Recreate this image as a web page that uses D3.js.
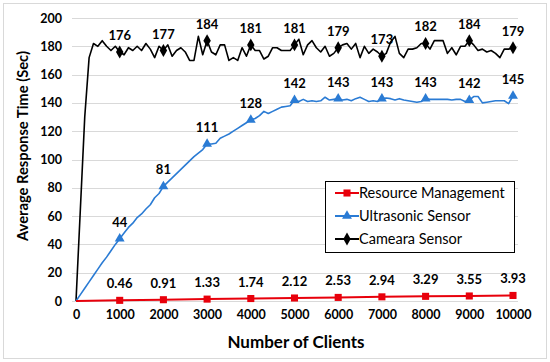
<!DOCTYPE html>
<html>
<head>
<meta charset="utf-8">
<script src="https://cdn.jsdelivr.net/npm/d3@7"></script>
<style>
  body { margin: 0; background: #fff; }
  svg { font-family: Lato, "Liberation Sans", sans-serif; }
</style>
</head>
<body>
<svg id="chart" width="550" height="362"></svg>
<script>
// clients sampled every 100 for the two sensor series
const clients = d3.range(0, 10001, 100);
const markerClients = d3.range(1000, 10001, 1000);

const cameraSensor = [
  0, 65, 130, 172, 182, 180, 184, 180, 177, 180,
  176, 174, 179, 177, 180, 177, 182, 178, 172, 180,
  177, 181, 173, 177, 179, 176, 170, 170, 187, 174,
  184, 176, 174, 181, 181, 170, 172, 170, 179, 173,
  181, 177, 177, 171, 173, 179, 179, 177, 177, 177,
  181, 185, 174, 181, 184, 179, 176, 180, 173, 175,
  179, 181, 182, 178, 182, 172, 180, 175, 178, 176,
  173, 175, 183, 187, 175, 172, 178, 178, 179, 182,
  182, 178, 184, 184, 184, 175, 179, 174, 180, 180,
  184, 181, 177, 178, 176, 177, 175, 172, 178, 178,
  179
];

const ultrasonicSensor = [
  0, 4.5, 9, 13.5, 18, 22.5, 27, 31, 35.5, 40,
  44, 48, 52, 55, 59, 61.5, 65, 68, 73, 76,
  81, 84, 87, 90, 93, 96, 99, 102, 104.5, 107,
  111, 111, 111.5, 115, 116.5, 118, 120, 122, 124, 126,
  128, 129, 131, 134, 132.5, 134, 135.5, 137, 137.5, 138,
  142, 141, 142.5, 141, 141.5, 141, 141.5, 144, 142, 142.5,
  143, 142, 142.5, 141.5, 143, 144, 142.5, 141, 141.5, 141,
  143, 143.5, 143, 142, 143, 142, 141.5, 141, 140.5, 141,
  143, 142.5, 142.5, 142.5, 142.5, 142.5, 142, 142.5, 142.5, 141,
  142, 144.5, 144.5, 140, 140.5, 141, 141.5, 141.5, 141.5, 139.5,
  145
];

const resourceClients = [0, 1000, 2000, 3000, 4000, 5000, 6000, 7000, 8000, 9000, 10000];
const resourceManagement = [0, 0.46, 0.91, 1.33, 1.74, 2.12, 2.53, 2.94, 3.29, 3.55, 3.93];

const cameraLabels = [176, 177, 184, 181, 181, 179, 173, 182, 184, 179];
const ultrasonicLabels = [44, 81, 111, 128, 142, 143, 143, 143, 142, 145];
const resourceLabels = ["0.46", "0.91", "1.33", "1.74", "2.12", "2.53", "2.94", "3.29", "3.55", "3.93"];

const xTicks = d3.range(0, 10001, 1000);
const yTicks = d3.range(0, 201, 20);

const svg = d3.select("#chart");

// outer frame
svg.append("rect")
  .attr("x", 3.5).attr("y", 3.5).attr("width", 543).attr("height", 355)
  .attr("fill", "#fff").attr("stroke", "#d9d9d9");

const x = d3.scaleLinear().domain([0, 10000]).range([76, 513]);
const y = d3.scaleLinear().domain([0, 200]).range([301, 18]);

// gridlines
svg.append("g")
  .selectAll("line")
  .data(yTicks)
  .join("line")
  .attr("x1", 72).attr("x2", 518)
  .attr("y1", d => Math.round(y(d)) + 0.5)
  .attr("y2", d => Math.round(y(d)) + 0.5)
  .attr("stroke", "#d9d9d9");

// y axis labels
const yAxis = svg.append("g")
  .attr("transform", "translate(62,0)")
  .call(d3.axisLeft(y).tickValues(yTicks).tickSize(0).tickPadding(0));
yAxis.select(".domain").remove();
yAxis.selectAll("text")
  .attr("font-family", "Lato, sans-serif")
  .attr("font-size", 12.5).attr("font-weight", "bold").attr("fill", "#000");

// x axis labels
const xAxis = svg.append("g")
  .attr("transform", "translate(0,310)")
  .call(d3.axisBottom(x).tickValues(xTicks).tickFormat(d3.format("d")).tickSize(0).tickPadding(0));
xAxis.select(".domain").remove();
xAxis.selectAll("text")
  .attr("font-family", "Lato, sans-serif")
  .attr("font-size", 12.5).attr("font-weight", "bold").attr("fill", "#000");

// axis titles
svg.append("text")
  .attr("x", 296).attr("y", 348)
  .attr("text-anchor", "middle")
  .attr("font-size", 17).attr("font-weight", "bold")
  .text("Number of Clients");

svg.append("text")
  .attr("transform", "translate(28,146) rotate(-90)")
  .attr("text-anchor", "middle")
  .attr("font-size", 15.5).attr("font-weight", "bold")
  .attr("textLength", 190).attr("lengthAdjust", "spacingAndGlyphs")
  .text("Average Response Time (Sec)");

const line = d3.line().x(d => x(d[0])).y(d => y(d[1]));

const series = [
  {
    name: "Resource Management", color: "#e8000b", symbol: d3.symbolSquare, size: 50,
    points: resourceClients.map((c, i) => [c, resourceManagement[i]]),
    labels: resourceLabels
  },
  {
    name: "Ultrasonic Sensor", color: "#2a7bd4", symbol: d3.symbolTriangle, size: 42,
    points: clients.map((c, i) => [c, ultrasonicSensor[i]]),
    labels: ultrasonicLabels
  },
  {
    name: "Cameara Sensor", color: "#000", symbol: d3.symbolDiamond, size: 48,
    points: clients.map((c, i) => [c, cameraSensor[i]]),
    labels: cameraLabels
  }
];

// draw in order: camera, ultrasonic, resource on top
[series[2], series[1], series[0]].forEach(s => {
  svg.append("path")
    .datum(s.points)
    .attr("fill", "none")
    .attr("stroke", s.color)
    .attr("stroke-width", s.name === "Resource Management" ? 2 : 1.6)
    .attr("stroke-linejoin", "round")
    .attr("d", line);

  const marks = s.points.filter(p => markerClients.includes(p[0]));
  svg.append("g")
    .selectAll("path")
    .data(marks)
    .join("path")
    .attr("transform", d => `translate(${x(d[0])},${y(d[1])})`)
    .attr("d", d3.symbol().type(s.symbol).size(s.size))
    .attr("fill", s.color);

  svg.append("g")
    .selectAll("text")
    .data(marks)
    .join("text")
    .attr("x", d => x(d[0]))
    .attr("y", d => y(d[1]) - 12)
    .attr("text-anchor", "middle")
    .attr("font-size", 13).attr("font-weight", "bold")
    .text((d, i) => s.labels[i]);
});

// legend
const legend = svg.append("g").attr("transform", "translate(325,181)");
legend.append("rect")
  .attr("x", 0.5).attr("y", 0.5).attr("width", 189).attr("height", 71)
  .attr("fill", "#fff").attr("stroke", "#000");

series.forEach((s, i) => {
  const g = legend.append("g").attr("transform", `translate(0,${12 + i * 23})`);
  g.append("line")
    .attr("x1", 10).attr("x2", 34).attr("y1", 0).attr("y2", 0)
    .attr("stroke", s.color).attr("stroke-width", 2);
  g.append("path")
    .attr("transform", "translate(22,0)")
    .attr("d", d3.symbol().type(s.symbol).size(s.size))
    .attr("fill", s.color);
  g.append("text")
    .attr("x", 34).attr("y", 5)
    .attr("font-size", 14.5)
    .text(s.name);
});
</script>
</body>
</html>
